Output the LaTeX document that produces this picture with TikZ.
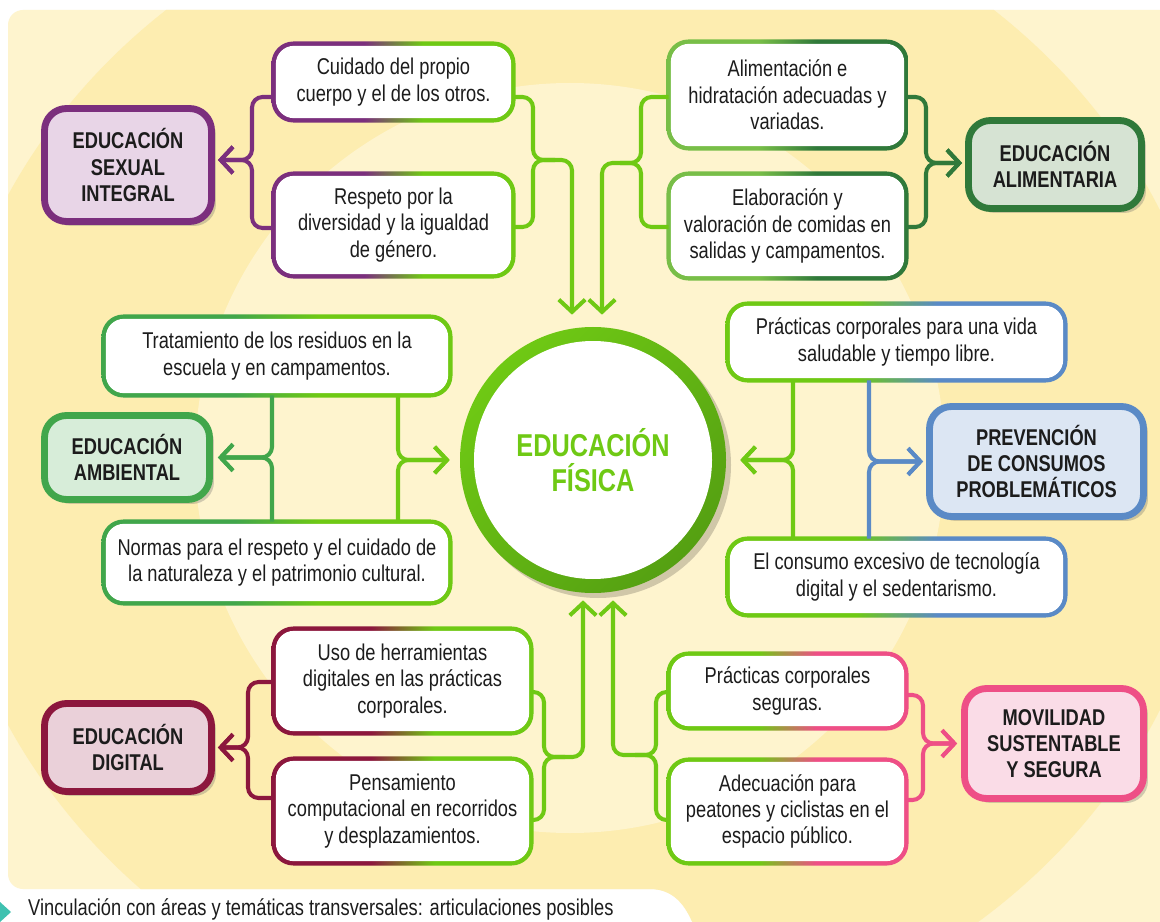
\documentclass[tikz,border=0pt]{standalone}
\usepackage{fontspec}
\setmainfont[FakeStretch=0.8]{Liberation Sans}
\usepackage{tikz}
\usetikzlibrary{calc,arrows.meta,shadows}
\pgfdeclarelayer{back}
\pgfdeclarelayer{background}
\pgfsetlayers{back,background,main}

\definecolor{fondo}{HTML}{FDEDB0}
\definecolor{fondoclaro}{HTML}{FEF4CE}
\definecolor{lima}{HTML}{6FC914}
\definecolor{limaosc}{HTML}{55A012}
\definecolor{esiC}{HTML}{7B2F7D}
\definecolor{esiF}{HTML}{E8D5E7}
\definecolor{aliC}{HTML}{30793A}
\definecolor{aliL}{HTML}{78BE48}
\definecolor{aliF}{HTML}{D6E3D3}
\definecolor{ambC}{HTML}{41A64B}
\definecolor{ambF}{HTML}{D7EDD9}
\definecolor{preC}{HTML}{5A8AC6}
\definecolor{preF}{HTML}{DCE6F3}
\definecolor{digC}{HTML}{8C173D}
\definecolor{digF}{HTML}{EAD0D9}
\definecolor{movC}{HTML}{EE4F86}
\definecolor{movF}{HTML}{FADCE7}
\definecolor{texto}{HTML}{1C1C1C}
\definecolor{turquesa}{HTML}{3FC1B0}

\colorlet{cL}{black}
\colorlet{cR}{black}
\pgfdeclarehorizontalshading[cL,cR]{duo}{100bp}{color(0bp)=(cL); color(44bp)=(cL);
    color(56bp)=(cR); color(100bp)=(cR)}

% two-colour frame behind a text box
\newcommand\marco[3]{%
    \begin{pgfonlayer}{background}
        \colorlet{cL}{#2}\colorlet{cR}{#3}
        \shade[shading=duo, rounded corners=.44cm] ($(#1.south west)+(-2.2,2.2)$) rectangle ($(#1.north east)+(2.2,-2.2)$);
        \fill[white, rounded corners=.36cm] ($(#1.south west)+(2.2,-2.2)$) rectangle ($(#1.north east)+(-2.2,2.2)$);
    \end{pgfonlayer}}

\tikzset{
    tema/.style 2 args={
        rectangle,
        draw=#1, fill=#2,
        line width=3.9pt,
        rounded corners=.44cm,
        inner sep=0pt,
        align=center,
        text=texto,
        font={\fontsize{13}{15}\selectfont\bfseries},
        drop shadow={shadow xshift=.09cm, shadow yshift=-.09cm, opacity=.3, fill=black!60}
    },
    punto/.style={
        rectangle,
        inner sep=0pt,
        align=center,
        text=texto,
        font={\fontsize{13}{15}\selectfont}
    },
    centro/.style={
        circle, inner sep=0pt,
        minimum size=5.32cm,
        align=center, text=lima,
        font={\fontsize{18}{20}\selectfont\bfseries}
    },
    ramal/.style={draw=#1, line width=2.3pt, rounded corners=6pt},
    enlace/.style={ramal=#1, -{Straight Barb[length=7pt,width=15pt]}},
}

\begin{document}
\begin{tikzpicture}[x=0.02cm, y=-0.02cm]
    \useasboundingbox (0,0) rectangle (1160,922);

    \begin{pgfonlayer}{back}
        \fill[white] (0,0) rectangle (1160,922);
        \begin{scope}
            \clip[rounded corners=.3cm] (650,889) -- (8,889) -- (8,10) -- (1200,10) -- (1200,940) -- (700,940)
                [sharp corners] .. controls (688,912) and (678,889) .. (650,889) -- cycle;
            \fill[fondoclaro] (0,0) rectangle (1200,940);
            \fill[fondo] (580,460) ellipse (640 and 590);
            \fill[fondoclaro] (570,458) circle (375);
        \end{scope}
        \fill[turquesa] (0,902) -- (11,912) -- (0,922) -- cycle;
    \end{pgfonlayer}

    % centre
    \node[centro] (ef) at (593,460) {EDUCACIÓN\\FÍSICA};
    \begin{pgfonlayer}{background}
        \fill[black, opacity=.18] ($(ef)+(5,5)$) circle (133);
        \shade[top color=lima, middle color=lima, bottom color=limaosc, shading angle=45] (ef) circle (133);
        \fill[white] (ef) circle (119);
    \end{pgfonlayer}

    % areas
    \node[tema={esiC}{esiF}, minimum width=3.34cm, minimum height=2.26cm] (esi) at (128,165) {EDUCACIÓN\\SEXUAL\\INTEGRAL};
    \node[tema={aliC}{aliF}, minimum width=3.46cm, minimum height=1.76cm] (alibox) at (1055,164.5) {EDUCACIÓN\\ALIMENTARIA};
    \node[tema={ambC}{ambF}, minimum width=3.30cm, minimum height=1.68cm] (amb) at (127,457.5) {EDUCACIÓN\\AMBIENTAL};
    \node[tema={preC}{preF}, minimum width=4.28cm, minimum height=2.20cm] (prev) at (1036.5,461.5) {PREVENCIÓN\\DE CONSUMOS\\PROBLEMÁTICOS};
    \node[tema={digC}{digF}, minimum width=3.34cm, minimum height=1.76cm] (dig) at (128,747.5) {EDUCACIÓN\\DIGITAL};
    \node[tema={movC}{movF}, minimum width=3.58cm, minimum height=2.20cm] (mov) at (1054,743.5) {MOVILIDAD\\SUSTENTABLE\\Y SEGURA};

    % topics
    \node[punto, minimum width=4.78cm, minimum height=1.52cm] (cuidado) at (393.5,82) {Cuidado del propio\\cuerpo y el de los otros.};
    \node[punto, minimum width=4.78cm, minimum height=2.04cm] (respeto) at (393.5,225) {Respeto por la\\diversidad y la igualdad\\de género.};
    \node[punto, minimum width=4.74cm, minimum height=2.12cm] (alim) at (787.5,95) {Alimentación e\\hidratación adecuadas y\\variadas.};
    \node[punto, minimum width=4.74cm, minimum height=2.08cm] (elab) at (787.5,226) {Elaboración y\\valoración de comidas en\\salidas y campamentos.};
    \node[punto, minimum width=6.92cm, minimum height=1.56cm] (trat) at (277,356) {Tratamiento de los residuos en la\\escuela y en campamentos.};
    \node[punto, minimum width=6.92cm, minimum height=1.62cm] (normas) at (277,562.5) {Normas para el respeto y el cuidado de\\la naturaleza y el patrimonio cultural.};
    \node[punto, minimum width=6.74cm, minimum height=1.52cm] (vida) at (896.5,342) {Prácticas corporales para una vida\\saludable y tiempo libre.};
    \node[punto, minimum width=6.74cm, minimum height=1.52cm] (consumo) at (896.5,577) {El consumo excesivo de tecnología\\digital y el sedentarismo.};
    \node[punto, minimum width=5.14cm, minimum height=2.08cm] (uso) at (402.5,681) {Uso de herramientas\\digitales en las prácticas\\corporales.};
    \node[punto, minimum width=5.14cm, minimum height=2.08cm] (pens) at (402.5,811) {Pensamiento\\computacional en recorridos\\y desplazamientos.};
    \node[punto, minimum width=4.74cm, minimum height=1.48cm] (segur) at (787.5,691) {Prácticas corporales\\seguras.};
    \node[punto, minimum width=4.74cm, minimum height=2.06cm] (adec) at (787.5,811.5) {Adecuación para\\peatones y ciclistas en el\\espacio público.};

    \marco{cuidado}{esiC}{lima}
    \marco{respeto}{esiC}{lima}
    \marco{alim}{aliL}{aliC}
    \marco{elab}{aliL}{aliC}
    \marco{trat}{ambC}{lima}
    \marco{normas}{ambC}{lima}
    \marco{vida}{lima}{preC}
    \marco{consumo}{lima}{preC}
    \marco{uso}{digC}{lima}
    \marco{pens}{digC}{lima}
    \marco{segur}{lima}{movC}
    \marco{adec}{lima}{movC}

    % sexual integral
    \draw[enlace=esiC] ($(cuidado.west)+(0,15)$) -| (252,160) -- ($(esi.east)+(3,-5)$);
    \draw[enlace=esiC] ($(respeto.west)+(0,3)$) -| (252,160) -- ($(esi.east)+(3,-5)$);
    \draw[enlace=lima] ($(cuidado.east)+(0,15)$) -| (533,160) -| ($(ef.north)+(-21,-12)$);
    \draw[ramal=lima] ($(respeto.east)+(0,2)$) -| (533,160) -- (555,160);

    % alimentaria
    \draw[enlace=lima] ($(alim.west)+(0,2)$) -| (641,163) -| ($(ef.north)+(9,-12)$);
    \draw[ramal=lima] ($(elab.west)+(0,1)$) -| (641,163) -- (620,163);
    \draw[enlace=aliC] ($(alim.east)+(0,2)$) -| (926,163) -- ($(alibox.west)+(-3,-1.5)$);
    \draw[enlace=aliC] ($(elab.east)+(0,1)$) -| (926,163) -- ($(alibox.west)+(-3,-1.5)$);

    % ambiental
    \draw[enlace=ambC] ($(trat.south)+(-5,0)$) |- ($(amb.east)+(5,0)$);
    \draw[enlace=ambC] ($(normas.north)+(-5,0)$) |- ($(amb.east)+(5,0)$);
    \draw[enlace=lima] ($(trat.south)+(121,0)$) |- ($(ef.west)+(-10,0)$);
    \draw[enlace=lima] ($(normas.north)+(121,0)$) |- ($(ef.west)+(-10,0)$);

    % prevencion
    \draw[enlace=lima] ($(vida.south)+(-103.5,0)$) |- ($(ef.east)+(14,0)$);
    \draw[enlace=lima] ($(consumo.north)+(-103.5,0)$) |- ($(ef.east)+(14,0)$);
    \draw[enlace=preC] ($(vida.south)+(-27.5,0)$) |- ($(prev.west)+(-3,0)$);
    \draw[enlace=preC] ($(consumo.north)+(-27.5,0)$) |- ($(prev.west)+(-3,0)$);

    % digital
    \draw[enlace=digC] ($(uso.west)+(0,1)$) -| (248,747.5) -- ($(dig.east)+(3,0)$);
    \draw[enlace=digC] ($(pens.west)+(0,-13)$) -| (248,747.5) -- ($(dig.east)+(3,0)$);
    \draw[enlace=lima] ($(uso.east)+(0,11)$) -| (544,757) -| ($(ef.south)+(-10,7)$);
    \draw[ramal=lima] ($(pens.east)+(0,9)$) -| (544,757) -- (565,757);

    % movilidad
    \draw[enlace=lima] ($(segur.west)+(0,1)$) -| (656,755) -| ($(ef.south)+(20,7)$);
    \draw[ramal=lima] ($(adec.west)+(0,8.5)$) -| (656,755) -- (635,755);
    \draw[enlace=movC] ($(segur.east)+(0,4)$) -| (923,743.5) -- ($(mov.west)+(-4,0)$);
    \draw[enlace=movC] ($(adec.east)+(0,-11.5)$) -| (923,743.5) -- ($(mov.west)+(-4,0)$);

    \node[anchor=base west, text=texto, font={\fontsize{13}{15}\selectfont}] (pie) at (22,915)
        {Vinculación con áreas y temáticas transversales: articulaciones posibles};
\end{tikzpicture}
\end{document}
